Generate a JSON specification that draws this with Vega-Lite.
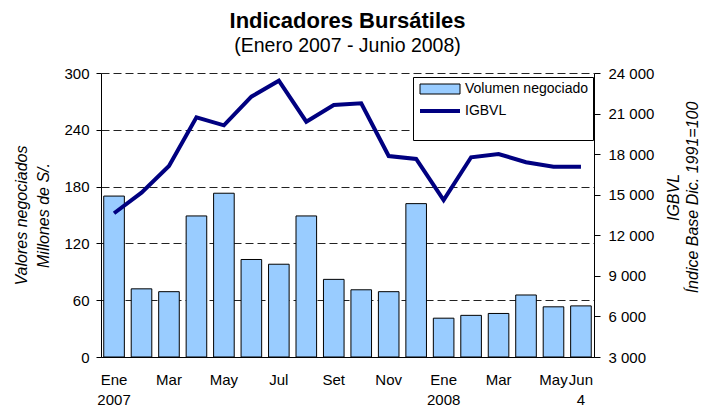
{
  "$schema": "https://vega.github.io/schema/vega-lite/v6.json",
  "width": 493,
  "height": 284,
  "autosize": "none",
  "padding": {"left": 101, "top": 73, "right": 110, "bottom": 56},
  "background": "white",
  "title": {
    "text": "Indicadores Bursátiles",
    "subtitle": "(Enero 2007 - Junio 2008)",
    "font": "Liberation Sans",
    "fontSize": 22,
    "fontWeight": "bold",
    "color": "black",
    "subtitleFont": "Liberation Sans",
    "subtitleFontSize": 19.5,
    "subtitleColor": "black",
    "subtitlePadding": 4,
    "anchor": "middle",
    "offset": 10
  },
  "config": {
    "view": {"stroke": null},
    "axis": {
      "labelFont": "Liberation Sans",
      "labelFontSize": 15,
      "labelColor": "black",
      "titleFont": "Liberation Sans",
      "titleFontSize": 16,
      "titleFontWeight": "normal",
      "titleFontStyle": "italic",
      "titleColor": "black",
      "domainColor": "black",
      "tickColor": "black"
    }
  },
  "data": {
    "values": [
      {"mes": "Ene 2007", "volumen": 170, "igbvl": 13630},
      {"mes": "Feb 2007", "volumen": 72, "igbvl": 15150},
      {"mes": "Mar 2007", "volumen": 69, "igbvl": 17120},
      {"mes": "Abr 2007", "volumen": 149, "igbvl": 20720},
      {"mes": "May 2007", "volumen": 173, "igbvl": 20130},
      {"mes": "Jun 2007", "volumen": 103, "igbvl": 22250},
      {"mes": "Jul 2007", "volumen": 98, "igbvl": 23430},
      {"mes": "Ago 2007", "volumen": 149, "igbvl": 20400},
      {"mes": "Set 2007", "volumen": 82, "igbvl": 21630},
      {"mes": "Oct 2007", "volumen": 71, "igbvl": 21760},
      {"mes": "Nov 2007", "volumen": 69, "igbvl": 17860},
      {"mes": "Dic 2007", "volumen": 162, "igbvl": 17640},
      {"mes": "Ene 2008", "volumen": 41, "igbvl": 14610},
      {"mes": "Feb 2008", "volumen": 44, "igbvl": 17770},
      {"mes": "Mar 2008", "volumen": 46, "igbvl": 18010},
      {"mes": "Abr 2008", "volumen": 65.5, "igbvl": 17400},
      {"mes": "May 2008", "volumen": 53, "igbvl": 17070},
      {"mes": "Jun 2008", "volumen": 54, "igbvl": 17070}
    ]
  },
  "encoding": {
    "x": {
      "field": "mes",
      "type": "ordinal",
      "sort": null,
      "scale": {"paddingInner": 0.25, "paddingOuter": 0.1},
      "axis": {
        "title": null,
        "labelAngle": 0,
        "ticks": false,
        "labelPadding": 15,
        "labelLineHeight": 20,
        "values": ["Ene 2007", "Mar 2007", "May 2007", "Jul 2007", "Set 2007", "Nov 2007", "Ene 2008", "Mar 2008", "May 2008", "Jun 2008"],
        "labelExpr": "datum.value == 'Ene 2007' ? ['Ene', '2007'] : datum.value == 'Ene 2008' ? ['Ene', '2008'] : datum.value == 'Jun 2008' ? ['Jun', '4'] : split(datum.value, ' ')[0]"
      }
    }
  },
  "layer": [
    {
      "mark": {"type": "bar", "stroke": "black", "strokeWidth": 1},
      "encoding": {
        "y": {
          "field": "volumen",
          "type": "quantitative",
          "scale": {"domain": [0, 300]},
          "axis": {
            "orient": "left",
            "values": [0, 60, 120, 180, 240, 300],
            "title": ["Valores negociados", "Millones de S/."],
            "titleLineHeight": 22,
            "titlePadding": 12,
            "tickSize": 5,
            "labelPadding": 7,
            "grid": true,
            "gridDash": [8, 4],
            "gridColor": "#222",
            "gridWidth": 1
          }
        },
        "fill": {
          "datum": "Volumen negociado",
          "scale": {"domain": ["Volumen negociado"], "range": ["#99ccff"]},
          "legend": {
            "title": " ",
            "titleOrient": "bottom",
            "titleFontSize": 14,
            "titlePadding": 25,
            "orient": "none",
            "legendX": 312,
            "legendY": 4,
            "strokeColor": "black",
            "fillColor": "white",
            "padding": 5,
            "labelFont": "Liberation Sans",
            "labelFontSize": 14,
            "labelColor": "black",
            "labelOffset": 33,
            "symbolSize": 100,
            "symbolType": "M-1,-1H7V1H-1Z",
            "symbolStrokeColor": "black",
            "symbolStrokeWidth": 1,
            "symbolOpacity": 1
          }
        }
      }
    },
    {
      "mark": {"type": "line", "strokeWidth": 4},
      "encoding": {
        "y": {
          "field": "igbvl",
          "type": "quantitative",
          "scale": {"domain": [3000, 24000]},
          "axis": {
            "orient": "right",
            "values": [3000, 6000, 9000, 12000, 15000, 18000, 21000, 24000],
            "labelExpr": "replace(format(datum.value, ','), ',', ' ')",
            "title": ["IGBVL", "Índice Base Dic. 1991=100"],
            "titleAngle": -90,
            "titleLineHeight": 19.5,
            "titlePadding": 8,
            "titleY": 124,
            "tickSize": 6,
            "labelPadding": 8,
            "grid": false
          }
        },
        "stroke": {
          "datum": "IGBVL",
          "scale": {"domain": ["IGBVL"], "range": ["#000080"]},
          "legend": {
            "title": null,
            "orient": "none",
            "legendX": 312,
            "legendY": 26,
            "padding": 5,
            "labelFont": "Liberation Sans",
            "labelFontSize": 14,
            "labelColor": "black",
            "labelOffset": 33,
            "symbolSize": 100,
            "symbolType": "M-1,0H7",
            "symbolFillColor": "transparent",
            "symbolStrokeWidth": 4,
            "symbolOpacity": 1
          }
        }
      }
    }
  ],
  "resolve": {"scale": {"y": "independent"}}
}
